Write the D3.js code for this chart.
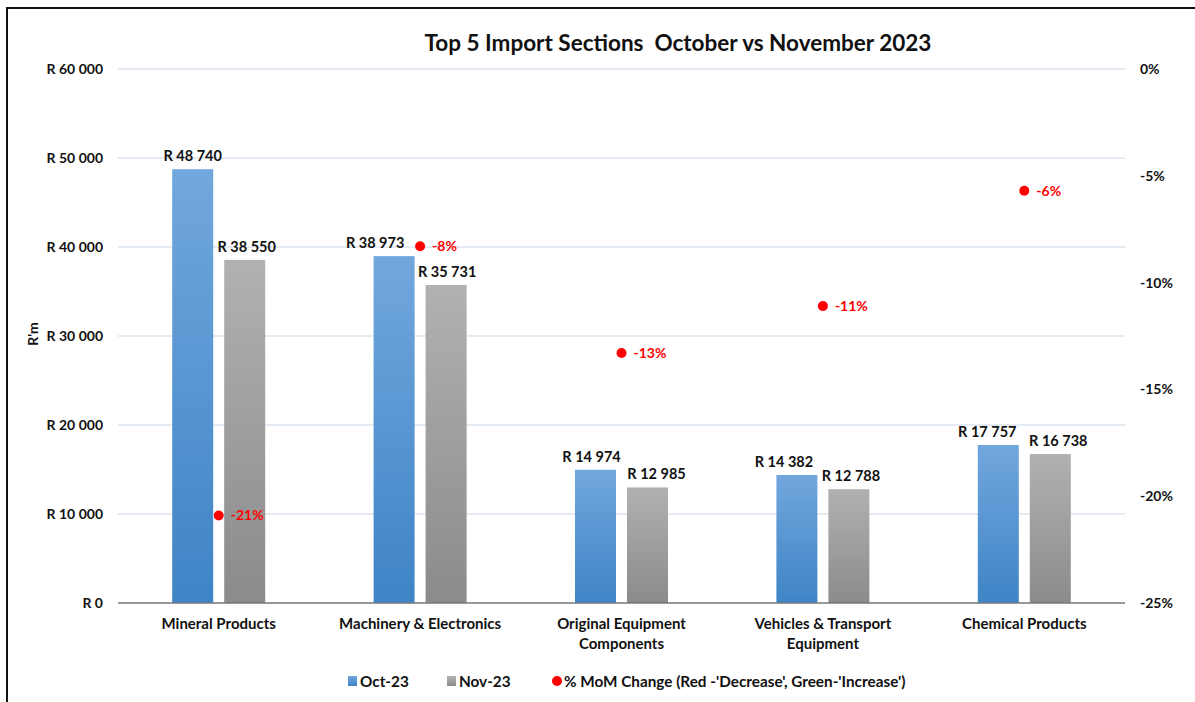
<!DOCTYPE html>
<html>
<head>
<meta charset="utf-8">
<script src="https://cdn.jsdelivr.net/npm/d3@7"></script>
<style>
  body { margin: 0; background: #fff; }
  svg { font-family: Lato, "Open Sans", sans-serif; }
</style>
</head>
<body>
<div id="chart"></div>
<script>
const categories = [
    ["Mineral Products"],
    ["Machinery & Electronics"],
    ["Original Equipment", "Components"],
    ["Vehicles & Transport", "Equipment"],
    ["Chemical Products"]
];
const oct23 = [48740, 38973, 14974, 14382, 17757];
const nov23 = [38550, 35731, 12985, 12788, 16738];
const momChange = [-20.9, -8.3, -13.3, -11.1, -5.7];
const leftTicks = [0, 10000, 20000, 30000, 40000, 50000, 60000];
const rightTicks = [0, -5, -10, -15, -20, -25];

// label nudges, as they were moved by hand in the original
const octLabelDx = [0, -19, -4, -13, -11];
const novLabelDx = [2, 1, 9, 2, 8];

const W = 1195, H = 702;
const margin = { top: 69, right: 70, bottom: 99, left: 118 };
const plotW = W - margin.left - margin.right;
const plotH = H - margin.top - margin.bottom;

const rand = v => "R " + d3.format(",")(v).replace(/,/g, " ");

const svg = d3.select("#chart").append("svg")
    .attr("width", W)
    .attr("height", H);

const defs = svg.append("defs");
function grad(id, top, bottom) {
    const g = defs.append("linearGradient").attr("id", id)
        .attr("x1", 0).attr("y1", 0).attr("x2", 0).attr("y2", 1);
    g.append("stop").attr("offset", "0%").attr("stop-color", top);
    g.append("stop").attr("offset", "100%").attr("stop-color", bottom);
}
grad("gBlue", "#72a7dd", "#3e84c6");
grad("gGray", "#b1b1b1", "#8b8b8b");

// outer frame (only top and left visible)
svg.append("path")
    .attr("d", `M7,${H} V8 H${W}`)
    .attr("fill", "none")
    .attr("stroke", "#111")
    .attr("stroke-width", 2);

svg.append("text")
    .attr("x", 678).attr("y", 51)
    .attr("text-anchor", "middle")
    .attr("font-size", 22.5).attr("font-weight", "bold")
    .attr("fill", "#111")
    .attr("xml:space", "preserve")
    .text("Top 5 Import Sections  October vs November 2023");

const g = svg.append("g").attr("transform", `translate(${margin.left},${margin.top})`);

const x = d3.scaleBand()
    .domain(d3.range(categories.length))
    .range([0, plotW]);

const y = d3.scaleLinear().domain([0, 60000]).range([plotH, 0]);
const y2 = d3.scaleLinear().domain([-25, 0]).range([plotH, 0]);

// gridlines
g.append("g")
    .selectAll("line")
    .data(leftTicks.filter(d => d > 0))
    .join("line")
    .attr("x1", 0).attr("x2", plotW)
    .attr("y1", d => y(d)).attr("y2", d => y(d))
    .attr("stroke", "#dde4ee").attr("stroke-width", 1.5);

// left axis
const yAxis = g.append("g")
    .call(d3.axisLeft(y).tickValues(leftTicks).tickSize(0).tickPadding(15).tickFormat(rand));
yAxis.select(".domain").remove();
yAxis.selectAll("text")
    .attr("font-size", 14).attr("font-weight", "bold").attr("fill", "#111")
    .attr("font-family", "Lato, sans-serif");

// right axis
const y2Axis = g.append("g")
    .attr("transform", `translate(${plotW},0)`)
    .call(d3.axisRight(y2).tickValues(rightTicks).tickSize(0).tickPadding(15).tickFormat(d => d + "%"));
y2Axis.select(".domain").remove();
y2Axis.selectAll("text")
    .attr("font-size", 14).attr("font-weight", "bold").attr("fill", "#111")
    .attr("font-family", "Lato, sans-serif");

g.append("text")
    .attr("transform", "rotate(-90)")
    .attr("x", -plotH / 2 + 2).attr("y", -80)
    .attr("text-anchor", "middle")
    .attr("font-size", 14).attr("font-weight", "bold").attr("fill", "#111")
    .text("R'm");

const barW = 41, gap = 11;

const groups = g.selectAll(".cat")
    .data(categories.map((c, i) => ({ i, c, oct: oct23[i], nov: nov23[i], pct: momChange[i] })))
    .join("g")
    .attr("class", "cat")
    .attr("transform", d => `translate(${x(d.i) + x.bandwidth() / 2},0)`);

groups.append("rect")
    .attr("x", -barW - gap / 2).attr("width", barW)
    .attr("y", d => y(d.oct)).attr("height", d => plotH - y(d.oct))
    .attr("fill", "url(#gBlue)");

groups.append("rect")
    .attr("x", gap / 2).attr("width", barW)
    .attr("y", d => y(d.nov)).attr("height", d => plotH - y(d.nov))
    .attr("fill", "url(#gGray)");

groups.append("text")
    .attr("x", d => -barW / 2 - gap / 2 + octLabelDx[d.i]).attr("y", d => y(d.oct) - 8)
    .attr("text-anchor", "middle")
    .attr("font-size", 14.5).attr("font-weight", "bold").attr("fill", "#111")
    .text(d => rand(d.oct));

groups.append("text")
    .attr("x", d => barW / 2 + gap / 2 + novLabelDx[d.i]).attr("y", d => y(d.nov) - 8)
    .attr("text-anchor", "middle")
    .attr("font-size", 14.5).attr("font-weight", "bold").attr("fill", "#111")
    .text(d => rand(d.nov));

groups.append("circle")
    .attr("cx", 0).attr("cy", d => y2(d.pct))
    .attr("r", 5)
    .attr("fill", "#ff0000");

groups.append("text")
    .attr("x", 12).attr("y", d => y2(d.pct) + 5)
    .attr("font-size", 14).attr("font-weight", "bold").attr("fill", "#ff0000")
    .text(d => Math.round(d.pct) + "%");

// baseline
g.append("line")
    .attr("x1", 0).attr("x2", plotW)
    .attr("y1", plotH).attr("y2", plotH)
    .attr("stroke", "#777").attr("stroke-width", 1.5);

// category labels
groups.append("text")
    .attr("text-anchor", "middle")
    .attr("font-size", 15).attr("font-weight", "bold").attr("fill", "#111")
    .selectAll("tspan")
    .data(d => d.c)
    .join("tspan")
    .attr("x", 0)
    .attr("y", (d, j) => plotH + 26 + j * 20)
    .text(d => d);

// legend
const legend = svg.append("g").attr("transform", "translate(0,681)");
const legendItems = [
    { x: 348, label: "Oct-23", type: "rect", fill: "url(#gBlue)" },
    { x: 447, label: "Nov-23", type: "rect", fill: "url(#gGray)" },
    { x: 552, label: "% MoM Change (Red -'Decrease', Green-'Increase')", type: "circle", fill: "#ff0000" }
];
legendItems.forEach(d => {
    if (d.type === "rect") {
        legend.append("rect").attr("x", d.x).attr("y", -5).attr("width", 9).attr("height", 10).attr("fill", d.fill);
    } else {
        legend.append("circle").attr("cx", d.x + 5).attr("cy", 0).attr("r", 5).attr("fill", d.fill);
    }
    legend.append("text")
        .attr("x", d.x + 12).attr("y", 5.5)
        .attr("font-size", 15.3).attr("font-weight", "bold").attr("fill", "#111")
        .text(d.label);
});
</script>
</body>
</html>
